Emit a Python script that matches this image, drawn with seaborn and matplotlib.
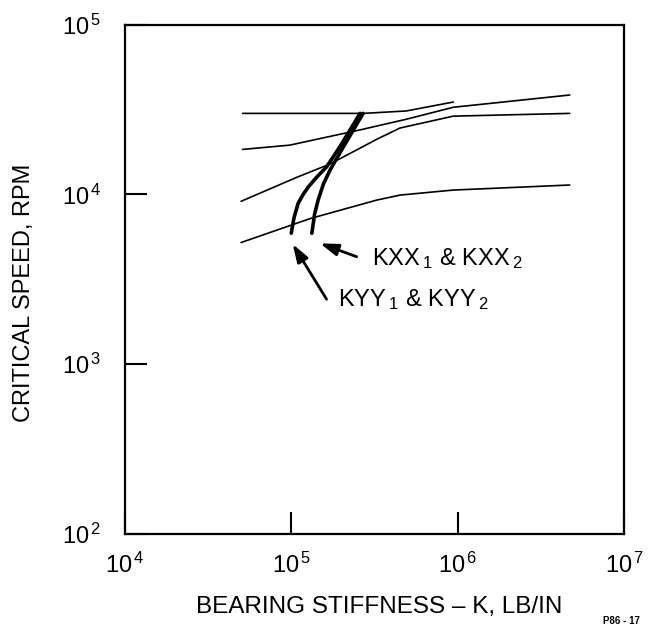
import matplotlib
matplotlib.use("Agg")
import matplotlib.pyplot as plt
import numpy as np
import pandas as pd
import seaborn as sns

# bearing stiffness (lb/in) vs critical speed (rpm)
stiff_1 = [5.1e4, 2.7e5, 4.9e5, 9.4e5]
speed_1 = [3.0e4, 3.0e4, 3.1e4, 3.5e4]

stiff_2 = [5.1e4, 9.8e4, 2.6e5, 4.9e5, 9.4e5, 4.7e6]
speed_2 = [1.84e4, 1.95e4, 2.4e4, 2.77e4, 3.26e4, 3.85e4]

stiff_3 = [5.0e4, 1.08e5, 1.71e5, 3.26e5, 4.5e5, 9.4e5, 4.7e6]
speed_3 = [9.1e3, 1.26e4, 1.51e4, 2.11e4, 2.46e4, 2.89e4, 3.0e4]

stiff_4 = [5.0e4, 1.3e5, 3.26e5, 4.5e5, 9.4e5, 4.7e6]
speed_4 = [5.2e3, 7.2e3, 9.25e3, 9.9e3, 1.06e4, 1.135e4]

# thick curves: bearing stiffness lines
kyy_stiff = [1.0e5, 1.04e5, 1.1e5, 1.18e5, 1.27e5, 1.43e5, 1.63e5, 1.96e5, 2.59e5]
kyy_speed = [5.9e3, 7.3e3, 8.85e3, 1.0e4, 1.11e4, 1.27e4, 1.45e4, 1.91e4, 3.0e4]
kxx_stiff = [1.33e5, 1.38e5, 1.45e5, 1.56e5, 1.71e5, 2.06e5, 2.7e5]
kxx_speed = [5.9e3, 7.6e3, 9.25e3, 1.15e4, 1.39e4, 1.91e4, 3.0e4]

x_ticks = [1e4, 1e5, 1e6, 1e7]
y_ticks = [1e2, 1e3, 1e4, 1e5]
x_tick_labels = [r"$\mathregular{10^{\,4}}$", r"$\mathregular{10^{\,5}}$",
                 r"$\mathregular{10^{\,6}}$", r"$\mathregular{10^{\,7}}$"]
y_tick_labels = [r"$\mathregular{10^{\,2}}$", r"$\mathregular{10^{\,3}}$",
                 r"$\mathregular{10^{\,4}}$", r"$\mathregular{10^{\,5}}$"]

sns.set_theme(style="white")
plt.rcParams["font.family"] = ["Liberation Sans", "DejaVu Sans"]
plt.rcParams["text.color"] = "black"
plt.rcParams["mathtext.fontset"] = "custom"
plt.rcParams["mathtext.rm"] = "Liberation Sans"
plt.rcParams["mathtext.it"] = "Liberation Sans"
plt.rcParams["mathtext.bf"] = "Liberation Sans:bold"

fig = plt.figure(figsize=(6.55, 6.28), dpi=100)
ax = fig.add_axes([0.1904, 0.1502, 0.7627, 0.8105])

thin = [(stiff_1, speed_1), (stiff_2, speed_2), (stiff_3, speed_3), (stiff_4, speed_4)]
for xs, ys in thin:
    sns.lineplot(x=xs, y=ys, ax=ax, color="black", linewidth=1.2, sort=False, estimator=None)

for xs, ys in [(kyy_stiff, kyy_speed), (kxx_stiff, kxx_speed)]:
    sns.lineplot(x=xs, y=ys, ax=ax, color="black", linewidth=2.6, sort=False,
                 estimator=None, solid_capstyle="round")

ax.set_xscale("log")
ax.set_yscale("log")
ax.set_xlim(1e4, 1e7)
ax.set_ylim(1e2, 1e5)
ax.set_xticks(x_ticks)
ax.set_xticklabels(x_tick_labels)
ax.set_yticks(y_ticks)
ax.set_yticklabels(y_tick_labels)
ax.minorticks_off()
ax.tick_params(axis="both", direction="in", length=16, width=1.5, labelsize=17, colors="black")
ax.tick_params(axis="x", pad=14, bottom=True, top=False)
ax.tick_params(axis="y", pad=17, left=True, right=False)
ax.set_xlabel("")
ax.set_ylabel("")
for sp in ax.spines.values():
    sp.set_visible(True)
    sp.set_color("black")
    sp.set_linewidth(1.6)

# labels on the curves
ax.annotate("", xy=(1.49e5, 5.14e3), xytext=(2.47e5, 4.29e3),
            arrowprops=dict(arrowstyle="-|>,head_length=0.9,head_width=0.3",
                            color="black", lw=2, shrinkA=0, shrinkB=0))
ax.text(3.06e5, 4.2e3, r"KXX$\,_{\mathregular{1}}$ & KXX$\,_{\mathregular{2}}$",
        fontsize=17, ha="left", va="center")
ax.annotate("", xy=(1.02e5, 5.09e3), xytext=(1.63e5, 2.41e3),
            arrowprops=dict(arrowstyle="-|>,head_length=0.9,head_width=0.3",
                            color="black", lw=2, shrinkA=0, shrinkB=0))
ax.text(1.91e5, 2.4e3, r"KYY$\,_{\mathregular{1}}$ & KYY$\,_{\mathregular{2}}$",
        fontsize=17, ha="left", va="center")

fig.text(379 / 655, 1 - 607 / 628, "BEARING STIFFNESS \u2013 K, LB/IN",
         fontsize=17.5, ha="center", va="center")
fig.text(24 / 655, 1 - 293 / 628, "CRITICAL SPEED, RPM",
         fontsize=17, ha="center", va="center", rotation=90)
fig.text(621 / 655, 1 - 621 / 628, "P86 - 17", fontsize=7, fontweight="bold",
         ha="center", va="center")

fig.savefig("out.png", dpi=100)
plt.close(fig)
